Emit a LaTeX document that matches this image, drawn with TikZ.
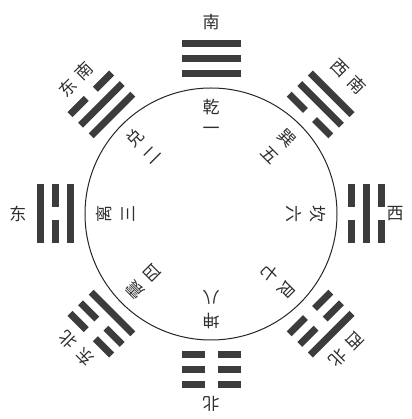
\documentclass[tikz,border=0pt]{standalone}
\usepackage{fontspec}
\usetikzlibrary{calc}
\newfontfamily\cjk{Noto Sans CJK SC}
\definecolor{ink}{HTML}{2E2E2E}
\definecolor{yaoc}{HTML}{3C3C3C}
\begin{document}
\begin{tikzpicture}[x=1pt,y=1pt,
  lbl/.style={inner sep=0pt,text=ink,font=\cjk\fontsize{17}{17}\selectfont},
  yao/.style={fill=yaoc},
  ring/.style={draw=black!85,line width=1pt}]
\useasboundingbox (-211,-205) rectangle (200,214);
\node[ring,circle,minimum size=252pt,inner sep=0pt] (ring) at (0,0) {};
% trigrams: angle / inner / middle / outer line (1 = solid)
\foreach \ang/\a/\b/\c in {90/1/1/1,135/1/1/0,180/1/0/1,225/1/0/0,270/0/0/0,45/0/1/1,0/0/1/0,315/0/0/1}{
  \begin{scope}[rotate=\ang-90]
    \foreach \bit/\r in {\a/140,\b/155,\c/170}{
      \ifnum\bit=1
        \fill[yao] (-29.5,\r-3.5) rectangle (29.5,\r+3.5);
      \else
        \fill[yao] (-29.5,\r-3.5) rectangle (-6.5,\r+3.5);
        \fill[yao] (6.5,\r-3.5) rectangle (29.5,\r+3.5);
      \fi
    }
  \end{scope}
}
% outer direction labels
\node[lbl] (s)  at (90:192)  {南};
\node[lbl] (n)  at (270:190) {\rotatebox{180}{北}};
\node[lbl] (e)  at (180:193) {东};
\node[lbl] (w)  at (0:184)   {西};
\foreach \ang/\r/\ca/\cb/\id in {45/194/西/南/sw,135/191/东/南/se,225/190/东/北/ne,315/191/西/北/nw}{
  \node[lbl,rotate=\ang-90] (\id-a) at ($(\ang:\r)+(\ang-90:-12)$) {\ca};
  \node[lbl,rotate=\ang-90] (\id-b) at ($(\ang:\r)+(\ang-90:12)$) {\cb};
}
% inner trigram names and numbers
\foreach \ang/\nm/\num/\id in {90/乾/一/qian,135/兑/二/dui,180/离/三/li,225/震/四/zhen,45/巽/五/xun,0/坎/六/kan,315/艮/七/gen,270/坤/八/kun}{
  \node[lbl,rotate=\ang-90] (\id-name) at (\ang:107) {\nm};
  \node[lbl,rotate=\ang-90] (\id-num)  at (\ang:83)  {\num};
}
\end{tikzpicture}
\end{document}
